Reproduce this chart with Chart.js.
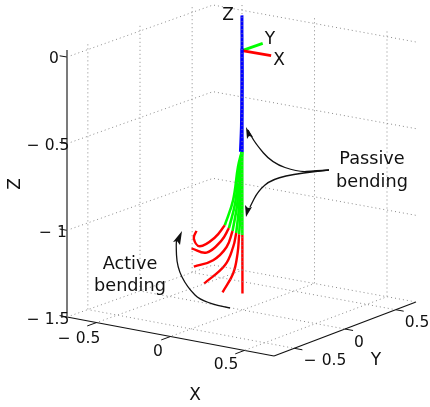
<!DOCTYPE html>
<html>
<head>
<meta charset="utf-8">
<title>Active and passive bending</title>
<script src="https://cdn.jsdelivr.net/npm/chart.js@4/dist/chart.umd.min.js"></script>
<style>
    html, body { margin: 0; padding: 0; background: #fff; }
    canvas { display: block; }
</style>
</head>
<body>
<canvas id="myChart" width="430" height="407"></canvas>
<script>
// --- Data (x, y, z in axis units) ---
const xTicks = [-0.5, 0, 0.5];
const yTicks = [-0.5, 0, 0.5];
const zTicks = [0, -0.5, -1, -1.5];
const xTickLabels = ['− 0.5', '0', '0.5'];
const yTickLabels = ['− 0.5', '0', '0.5'];
const zTickLabels = ['0', '− 0.5', '− 1', '− 1.5'];

// Blue part of the rod
const blueX = [0, 0];
const blueZ = [0.19, -0.594];
const blueLeanX = [0, 0, -0.005, -0.012];
const blueLeanZ = [0, -0.2, -0.45, -0.594];

// Green part (passive bending), one per curve
const greenX = [
    [-0.004, -0.029, -0.063, -0.12],
    [-0.003, -0.022, -0.048, -0.092],
    [-0.002, -0.016, -0.035, -0.067],
    [-0.001, -0.01, -0.022, -0.042],
    [-0.001, -0.005, -0.011, -0.022],
    [0, 0, 0, 0]
];
const greenZ = [
    [-0.594, -0.684, -0.88, -1.032],
    [-0.594, -0.69, -0.89, -1.045],
    [-0.594, -0.695, -0.9, -1.057],
    [-0.594, -0.7, -0.91, -1.065],
    [-0.594, -0.7, -0.92, -1.07],
    [-0.594, -0.7, -0.92, -1.07]
];

// Red part (active bending)
const redX = [
    [-0.12, -0.188, -0.291, -0.332, -0.314],
    [-0.092, -0.142, -0.245, -0.348],
    [-0.067, -0.108, -0.2, -0.332],
    [-0.042, -0.063, -0.12, -0.262],
    [-0.022, -0.033, -0.063, -0.136],
    [0, 0]
];
const redZ = [
    [-1.032, -1.113, -1.179, -1.14, -1.094],
    [-1.045, -1.122, -1.208, -1.2],
    [-1.057, -1.155, -1.245, -1.303],
    [-1.065, -1.148, -1.262, -1.389],
    [-1.07, -1.18, -1.299, -1.42],
    [-1.07, -1.405]
];

// Small frame at the origin
const frameLength = 0.2;
const frameZ = -0.012;

// --- Projection of the axis box on the view ---
const floorCorners = { a: [67, 317], b: [213, 265], c: [416, 302], d: [274, 356] };
const topCorners = { a: [67, 57], b: [213, 5], c: [416, 42], d: [272, 90] };

function bilinear(c, u, v, i) {
    return c.a[i] * (1 - u) * (1 - v) + c.b[i] * (1 - u) * v + c.c[i] * u * v + c.d[i] * u * (1 - v);
}

function project(x, y, z) {
    const u = (x + 0.7) / 1.4;
    const v = (y + 0.7) / 1.4;
    const t = (z + 1.5) / 1.5;
    return {
        x: bilinear(floorCorners, u, v, 0) * (1 - t) + bilinear(topCorners, u, v, 0) * t,
        y: bilinear(floorCorners, u, v, 1) * (1 - t) + bilinear(topCorners, u, v, 1) * t
    };
}

const datasets = [];

function addLine(points, color, width, dash, tension) {
    datasets.push({
        data: points,
        showLine: true,
        borderColor: color,
        borderWidth: width,
        borderDash: dash || [],
        tension: tension || 0,
        pointRadius: 0,
        fill: false
    });
}

const gridColor = '#8a8a8a';
const gridDash = [1, 3];
const zGridTop = 0.03;

// Grade das paredes e do chão
zTicks.forEach(z => {
    addLine([project(-0.7, -0.7, z), project(-0.7, 0.7, z), project(0.7, 0.7, z)], gridColor, 1, gridDash);
});
yTicks.forEach(y => {
    addLine([project(-0.7, y, zGridTop), project(-0.7, y, -1.5), project(0.7, y, -1.5)], gridColor, 1, gridDash);
});
xTicks.forEach(x => {
    addLine([project(x, 0.7, zGridTop), project(x, 0.7, -1.5), project(x, -0.7, -1.5)], gridColor, 1, gridDash);
});

// Eixos
addLine([project(-0.7, -0.7, 0.04), project(-0.7, -0.7, -1.5)], '#444', 1.4);
addLine([project(-0.7, -0.7, -1.5), project(0.7, -0.7, -1.5)], '#111', 1.2);
addLine([project(0.7, -0.7, -1.5), project(0.7, 0.7, -1.5)], '#111', 1.2);
xTicks.forEach(x => addLine([project(x, -0.7, -1.5), project(x, -0.79, -1.5)], '#111', 1));
yTicks.forEach(y => addLine([project(0.7, y, -1.5), project(0.755, y, -1.5)], '#111', 1));
zTicks.forEach(z => addLine([project(-0.7, -0.7, z), project(-0.75, -0.7, z)], '#111', 1));

// Curvas
redX.forEach((xs, i) => {
    addLine(xs.map((x, j) => project(x, 0, redZ[i][j])), '#ff0000', 2.4, null, 0.4);
});
greenX.forEach((xs, i) => {
    addLine(xs.map((x, j) => project(x, 0, greenZ[i][j])), '#00ff00', 2.6, null, 0.4);
});
addLine(blueX.map((x, j) => project(x, 0, blueZ[j])), '#0000ff', 3);
addLine(blueLeanX.map((x, j) => project(x, 0, blueLeanZ[j])), '#0000ff', 3, null, 0.4);

// Frame
addLine([project(0, 0, frameZ), project(frameLength, 0, frameZ)], '#ff0000', 2.8);
addLine([project(0, 0, frameZ), project(0, frameLength, frameZ)], '#00ff00', 2.8);

// --- Annotations (view coordinates) ---
const tickFont = '15.5px "DejaVu Sans"';
const letterFont = '17px "DejaVu Sans"';
const noteFont = '17.7px "DejaVu Sans"';
const textDrop = 1.5;

const texts = [
    { s: zTickLabels[0], x: 54, y: 57, font: tickFont },
    { s: zTickLabels[1], x: 48, y: 144, font: tickFont },
    { s: zTickLabels[2], x: 53, y: 231, font: tickFont },
    { s: zTickLabels[3], x: 48, y: 318, font: tickFont },
    { s: xTickLabels[0], x: 79, y: 337, font: tickFont },
    { s: xTickLabels[1], x: 158, y: 350, font: tickFont },
    { s: xTickLabels[2], x: 226, y: 363, font: tickFont },
    { s: yTickLabels[0], x: 325, y: 359, font: tickFont },
    { s: yTickLabels[1], x: 359, y: 341, font: tickFont },
    { s: yTickLabels[2], x: 417, y: 321, font: tickFont },
    { s: 'X', x: 195, y: 394, font: letterFont },
    { s: 'Y', x: 376, y: 359, font: letterFont },
    { s: 'Z', x: 14, y: 184, font: letterFont, rotate: -Math.PI / 2 },
    { s: 'Z', x: 228, y: 14, font: letterFont },
    { s: 'Y', x: 270, y: 38, font: letterFont },
    { s: 'X', x: 279, y: 59, font: letterFont },
    { s: 'Passive', x: 372, y: 158, font: noteFont },
    { s: 'bending', x: 372, y: 181, font: noteFont },
    { s: 'Active', x: 130, y: 263, font: noteFont },
    { s: 'bending', x: 130, y: 285, font: noteFont }
];

const arrows = [
    {
        curve: [[329, 170], [315, 171], [298, 172], [272, 163], [255, 143], [248, 130]],
        head: [[246, 127], [253, 137], [249, 136], [247, 139]]
    },
    {
        curve: [[329, 170], [300, 173], [272, 179], [258, 191], [250, 207]],
        head: [[246, 217], [245, 205], [248, 208], [252, 207]]
    },
    {
        curve: [[230, 308], [203, 303], [187, 287], [177, 267], [176, 243], [177, 240]],
        head: [[182, 231], [180, 245], [177, 241], [173, 242]]
    }
];

const annotationPlugin = {
    id: 'annotations',
    afterDatasetsDraw(chart) {
        const ctx = chart.ctx;
        const sx = chart.scales.x;
        const sy = chart.scales.y;
        ctx.save();

        arrows.forEach(arrow => {
            const pts = arrow.curve.map(p => [sx.getPixelForValue(p[0]), sy.getPixelForValue(p[1])]);
            ctx.beginPath();
            ctx.moveTo(pts[0][0], pts[0][1]);
            for (let i = 1; i < pts.length - 1; i++) {
                const mx = (pts[i][0] + pts[i + 1][0]) / 2;
                const my = (pts[i][1] + pts[i + 1][1]) / 2;
                ctx.quadraticCurveTo(pts[i][0], pts[i][1], mx, my);
            }
            const last = pts[pts.length - 1];
            ctx.lineTo(last[0], last[1]);
            ctx.strokeStyle = '#111';
            ctx.lineWidth = 1.3;
            ctx.stroke();

            ctx.beginPath();
            arrow.head.forEach((p, i) => {
                const px = sx.getPixelForValue(p[0]);
                const py = sy.getPixelForValue(p[1]);
                if (i === 0) ctx.moveTo(px, py); else ctx.lineTo(px, py);
            });
            ctx.closePath();
            ctx.fillStyle = '#111';
            ctx.fill();
        });

        ctx.fillStyle = '#111';
        ctx.textAlign = 'center';
        ctx.textBaseline = 'middle';
        texts.forEach(t => {
            ctx.save();
            ctx.translate(sx.getPixelForValue(t.x), sy.getPixelForValue(t.y));
            if (t.rotate) ctx.rotate(t.rotate);
            ctx.font = t.font;
            ctx.fillText(t.s, 0, textDrop);
            ctx.restore();
        });
        ctx.restore();
    }
};

const chartCanvas = document.getElementById('myChart');
new Chart(chartCanvas.getContext('2d'), {
    type: 'scatter',
    data: { datasets: datasets },
    options: {
        responsive: false,
        animation: false,
        layout: { padding: 0 },
        plugins: {
            legend: { display: false },
            tooltip: { enabled: false }
        },
        scales: {
            x: { type: 'linear', display: false, min: 0, max: 430 },
            y: { type: 'linear', display: false, min: 0, max: 407, reverse: true }
        }
    },
    plugins: [annotationPlugin]
});
</script>
</body>
</html>
